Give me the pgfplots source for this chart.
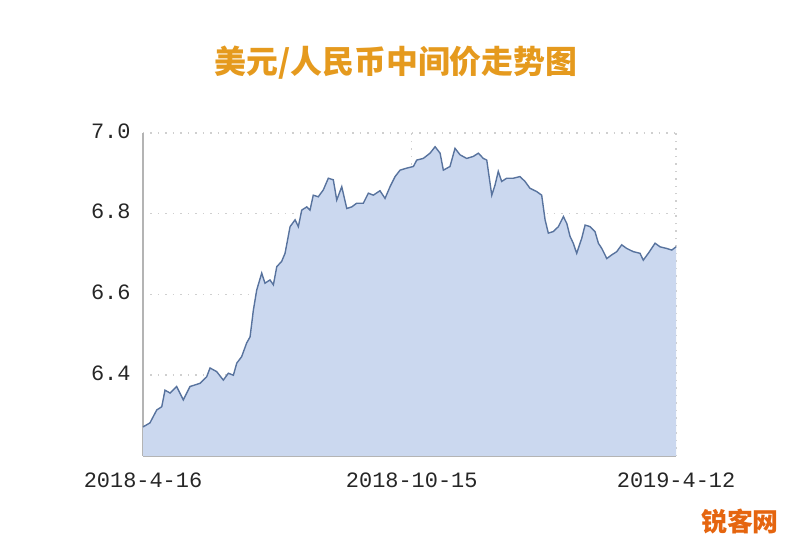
\documentclass[border=0pt]{standalone}
\usepackage{pgfplots}
\pgfplotsset{compat=1.18}
\usepackage{pgfplotstable}
\usepackage{fontspec}
\setmainfont{Liberation Sans}
\newfontfamily\cjk{Noto Sans CJK SC}
\newfontfamily\tickfont{Liberation Mono}

\definecolor{linecol}{HTML}{58739E}
\definecolor{fillcol}{HTML}{CBD8EF}
\definecolor{titlecol}{HTML}{E59A1E}
\definecolor{axiscol}{HTML}{B4B4B4}
\definecolor{gridcol}{HTML}{CFCFCF}
\definecolor{wmcol}{HTML}{E5650F}

% day index from 2018-4-16, middle rate
\pgfplotstableread{
x y
0 6.272
4.7 6.282
9.3 6.314
12.7 6.322
14.9 6.363
18.3 6.356
22.8 6.372
27.3 6.339
31.8 6.372
38.6 6.380
43.1 6.396
45.4 6.418
49.9 6.409
54.4 6.388
57.8 6.405
61.2 6.400
63.5 6.430
66.8 6.446
70.2 6.480
72.5 6.495
74.7 6.560
77.0 6.611
80.4 6.653
82.6 6.628
86.0 6.636
88.3 6.624
90.6 6.669
93.9 6.682
96.2 6.702
99.6 6.768
103.0 6.785
105.2 6.768
107.5 6.809
110.9 6.817
113.1 6.809
115.3 6.846
118.7 6.842
122.1 6.859
125.5 6.888
128.9 6.884
131.2 6.834
134.6 6.867
138.0 6.813
141.4 6.817
144.7 6.826
149.2 6.826
152.6 6.851
156.0 6.846
160.5 6.857
163.9 6.838
167.3 6.867
170.7 6.892
174.1 6.908
178.6 6.913
183.1 6.917
185.4 6.933
189.8 6.937
194.4 6.950
197.8 6.966
201.2 6.950
203.4 6.908
207.9 6.917
211.3 6.962
214.7 6.946
219.2 6.937
223.7 6.942
227.1 6.950
230.5 6.937
232.8 6.933
236.2 6.846
238.4 6.871
240.6 6.905
242.9 6.880
246.3 6.888
250.8 6.888
255.3 6.892
258.7 6.880
262.1 6.863
266.6 6.855
270.0 6.846
272.3 6.785
274.5 6.752
277.9 6.756
281.3 6.768
284.7 6.793
287.0 6.776
289.2 6.744
291.4 6.727
293.7 6.702
297.1 6.739
299.4 6.772
302.8 6.768
306.1 6.756
308.4 6.727
310.7 6.714
314.1 6.689
317.4 6.698
320.8 6.706
324.2 6.723
327.6 6.714
332.1 6.706
336.6 6.702
338.8 6.685
342.2 6.702
346.8 6.727
350.2 6.718
354.7 6.714
358.1 6.710
361 6.718
}\ratetable

\begin{document}
\begin{tikzpicture}[x=1bp,y=1bp]
\useasboundingbox (0,0) rectangle (800,550);
\node[text=titlecol,font=\cjk\bfseries\fontsize{32}{32}\selectfont] at (396,487) {美元/人民币中间价走势图};
\begin{axis}[
  at={(143bp,94bp)}, anchor=south west,
  width=533bp, height=323bp, scale only axis,
  xmin=0, xmax=361, ymin=6.2, ymax=7.0,
  axis x line=bottom, axis y line=left,
  axis line style={draw=axiscol, line width=1.6pt, -},
  xtick={0,182,361},
  xticklabels={2018-4-16,2018-10-15,2019-4-12},
  ytick={6.4,6.6,6.8,7.0},
  y tick label style={/pgf/number format/fixed, /pgf/number format/fixed zerofill, /pgf/number format/precision=1},
  /pgf/number format/assume math mode=true,
  ticklabel style={font=\tickfont\fontsize{22}{22}\selectfont, text=black!85},
  major tick length=0pt,
  xticklabel style={yshift=-13bp},
  yticklabel style={xshift=-9bp, yshift=2bp},
  grid=major,
  major grid style={draw=gridcol, line width=1.5pt, dash pattern=on 1.5pt off 6pt},
  clip=false,
]
\addplot[fill=fillcol, draw=none] table[x=x,y=y]{\ratetable} \closedcycle;
\addplot[draw=linecol, line width=1.4pt] table[x=x,y=y]{\ratetable};
\end{axis}
\node[text=wmcol,font=\cjk\bfseries\fontsize{26}{26}\selectfont] at (740,28) {锐客网};
\end{tikzpicture}
\end{document}
